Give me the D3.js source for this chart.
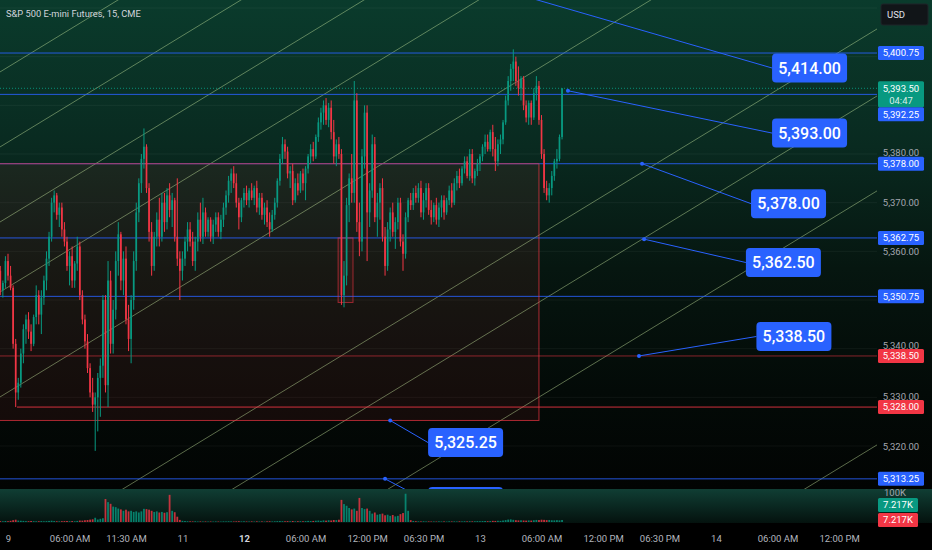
<!DOCTYPE html>
<html>
<head>
<meta charset="utf-8">
<script src="https://cdn.jsdelivr.net/npm/d3@7/dist/d3.min.js"></script>
<style>
  html, body { margin: 0; padding: 0; background: #000; }
  svg { display: block; font-family: Roboto, "Noto Sans", sans-serif; }
</style>
</head>
<body>
<svg id="chart"></svg>
<script>
// ---- data (ES 15 min) ----
var firstBar = -3;   // bar index of the first candle, bar 0 = day "9" 00:00

// [open, high, low, close]
var candles = [
  [5356,5357,5351,5352],[5352,5354,5350.5,5353.5],[5353.5,5359,5352.5,5358],[5358,5359.5,5354,5355],[5355,5357,5352,5352.5],
  [5352.5,5353,5340,5341],[5341,5342,5328,5331],[5331,5334,5329.5,5333],[5333,5340,5332,5339],[5339,5345,5337,5344],
  [5344,5347,5341,5346],[5346,5347.5,5342,5343.5],[5343.5,5345,5339.5,5341],[5341,5347,5340.5,5346.5],[5346.5,5353,5345,5351],
  [5351,5352,5345,5347],[5347,5352,5343,5350.5],[5350.5,5355,5349,5354],[5354,5360,5352,5358.5],[5358.5,5364,5357,5363],
  [5363,5371,5362,5370],[5370,5372.5,5368,5371.5],[5371.5,5372,5366.5,5367.5],[5367.5,5370,5365,5369],[5369,5370,5363,5364.5],
  [5364.5,5366,5361,5362],[5362,5363,5356,5357],[5357,5360,5353,5359],[5359,5361,5352.5,5354],[5354,5358,5352.5,5357.5],
  [5357.5,5363,5356,5361],[5361,5362,5350,5351],[5351,5352,5345,5346],[5346,5347,5340,5341.5],[5341.5,5343,5335,5336],
  [5336,5337,5330,5331],[5331,5334,5327,5328.5],[5328.5,5331,5319,5330],[5330,5335,5323,5334],[5334,5338,5326,5336.5],
  [5336.5,5351,5334,5350],[5350,5351,5331,5332.5],[5332.5,5358,5328,5354],[5354,5356,5339,5341],[5341,5350,5339,5348],
  [5348,5360,5346,5358],[5358,5366,5355,5363.5],[5363.5,5364,5352,5354],[5354,5360,5351,5358.5],[5358.5,5361,5345,5346],
  [5346,5349,5339.5,5342],[5342,5351,5337,5350],[5350,5360,5348,5358],[5358,5370,5356,5368],[5368,5375,5366,5374],
  [5374,5380,5372,5379],[5379,5385.25,5377,5381.5],[5381.5,5382,5372,5373],[5373,5374,5362,5364],[5364,5366,5355,5357],
  [5357,5364,5356,5363],[5363,5368,5361,5366.5],[5366.5,5371,5361,5363],[5363,5372,5362,5370],[5370,5372,5364,5366],
  [5366,5373,5364.5,5371.5],[5371.5,5374,5367,5368.5],[5368.5,5372,5365,5370.5],[5370.5,5371,5362,5363],[5363,5375,5357,5358.5],
  [5358.5,5360,5350,5356],[5356,5360,5354,5358.5],[5358.5,5363,5357,5362],[5362,5366,5360,5364.5],[5364.5,5366,5361,5362],
  [5362,5364,5357,5358],[5358,5363,5356,5362],[5362,5368,5360,5366.5],[5366.5,5370,5362,5363],[5363,5371,5361.5,5368],
  [5368,5369,5363,5364],[5364,5367,5363,5366.5],[5366.5,5367,5362,5363],[5363,5366.5,5361.5,5365.5],[5365.5,5368,5364,5367],
  [5367,5368,5363,5364],[5364,5367.5,5362.5,5366.5],[5366.5,5370,5365,5369],[5369,5372.5,5367.5,5371.5],[5371.5,5375.5,5370,5374.5],
  [5374.5,5377,5372,5376],[5376,5377.5,5373,5374],[5374,5376,5369,5370],[5370,5371,5364.5,5367],[5367,5371,5366,5370.5],
  [5370.5,5373,5369,5372],[5372,5373.5,5369.5,5370.5],[5370.5,5373,5369,5372.5],[5372.5,5374,5370.5,5371],[5371,5373.5,5369.5,5373],
  [5373,5374.5,5368,5369],[5369,5372,5367.5,5371],[5371,5372,5366.5,5367.5],[5367.5,5370,5365.5,5369],[5369,5370.5,5365,5366],
  [5366,5368,5363,5364.5],[5364.5,5368.5,5364,5367.5],[5367.5,5371,5366.5,5370],[5370,5375,5369,5374.5],[5374.5,5380,5373.5,5379],
  [5379,5383.5,5378,5382],[5382,5383,5379,5380.5],[5380.5,5381.5,5375,5376],[5376,5377.5,5373,5376.5],[5376.5,5378,5369.5,5370.5],
  [5370.5,5375,5370,5374],[5374,5376,5371.5,5372.5],[5372.5,5376.5,5372,5376],[5376,5377,5372.5,5374],[5374,5377.5,5370.5,5377],
  [5377,5380,5376,5379.5],[5379.5,5382,5378,5381],[5381,5382.5,5378.5,5379.5],[5379.5,5384,5379,5383.5],[5383.5,5387.5,5382.5,5386.5],
  [5386.5,5389.5,5385,5388.5],[5388.5,5391,5386,5390],[5390,5391.5,5386,5387],[5387,5390.5,5385.5,5389.5],[5389.5,5391,5383,5384.5],
  [5384.5,5387,5378,5379.5],[5379.5,5383,5377.5,5382],[5382,5383.5,5379,5380],[5380,5381,5349,5351],[5351,5358,5348.5,5355],
  [5355,5371,5353,5369.5],[5369.5,5376,5366,5375],[5375,5380,5370,5372],[5372,5395,5370,5391],[5391,5392.5,5364,5366],
  [5366,5370,5359,5362],[5362,5381,5360,5379.5],[5379.5,5390,5377,5388.5],[5388.5,5390,5358,5368],[5368,5374,5365,5372.5],
  [5372.5,5384,5371,5382],[5382,5383.5,5366,5367],[5367,5372,5363,5370],[5370,5374,5366.5,5373],[5373,5375,5362,5363],
  [5363,5365,5355,5357],[5357,5366,5356,5364.5],[5364.5,5369,5362,5368],[5368,5370,5363,5364],[5364,5367,5360.5,5366],
  [5366,5371,5364.5,5370],[5370,5371,5361,5362],[5362,5363.5,5356,5359.5],[5359.5,5368,5358.5,5367],[5367,5371,5366,5370.5],
  [5370.5,5372,5368.5,5369.5],[5369.5,5373,5368.5,5372],[5372,5373.5,5370,5371],[5371,5374,5370,5373],[5373,5374.5,5367,5368],
  [5368,5372,5366.5,5370.5],[5370.5,5374,5369,5373],[5373,5374,5367.5,5368.5],[5368.5,5370.5,5365.5,5367],[5367,5370,5366,5369.5],
  [5369.5,5371,5365.5,5366.5],[5366.5,5370,5365,5369],[5369,5371.5,5367,5370.5],[5370.5,5371.5,5366.5,5368],[5368,5371,5367.5,5370.5],
  [5370.5,5373.5,5369.5,5372.5],[5372.5,5374,5369,5370],[5370,5375,5369.5,5374],[5374,5376.5,5372.5,5375.5],[5375.5,5377,5373,5374],
  [5374,5377.5,5373.5,5377],[5377,5379.5,5376,5378.5],[5378.5,5379.5,5375,5375.5],[5375.5,5381,5374.5,5380],[5380,5381,5374,5375],
  [5375,5377,5373.5,5376.5],[5376.5,5379,5375.5,5378],[5378,5380,5376.5,5379.5],[5379.5,5382,5378.5,5381.5],[5381.5,5384,5380,5382.5],
  [5382.5,5384,5380.5,5381],[5381,5385,5380.5,5384.5],[5384.5,5386,5379.5,5381],[5381,5383.5,5376.5,5378.5],[5378.5,5383,5377.5,5382],
  [5382,5384,5380,5383],[5383,5387,5382,5386.5],[5386.5,5392,5386,5391],[5391,5396,5390,5395],[5395,5398.5,5393,5397.5],
  [5397.5,5401.5,5395,5399],[5399,5400,5394,5395],[5395,5398,5392,5393.5],[5393.5,5396,5391,5395.5],[5395.5,5396,5389,5390],
  [5390,5391,5386.5,5387.5],[5387.5,5391,5386,5390.5],[5390.5,5391,5386,5387.5],[5387.5,5393.5,5387,5392.5],[5392.5,5396,5391,5394],
  [5394,5395,5386,5387],[5387,5388,5379,5380],[5380,5381,5372,5373],[5373,5374.5,5370.5,5371.5],[5371.5,5374,5370,5373],
  [5373,5376.5,5371.5,5375.5],[5375.5,5379,5374.5,5378.5],[5378.5,5381,5377,5379],[5379,5384,5378.5,5383.5],[5383.5,5393.5,5383,5393.5]
];

// volume per bar, thousands of contracts
var volumes = [
  3.1,2.4,3.6,2.8,4.2,
  6.5,8.2,5.1,4.4,3.9,3.2,2.9,3.5,
  3.0,2.6,2.8,3.3,2.5,3.1,3.8,4.6,3.4,2.7,
  2.5,2.9,3.2,3.6,2.8,3.3,2.6,3.9,5.2,4.8,
  6.3,7.1,8.4,9.6,15.2,8.8,11.5,13.4,
  82,71,65,55,53,48,45,40,44,38,
  40,36,38,34,38,47,46,44,40,36,
  38,34,36,33,35,97,40,35,19,7.5,
  4.2,3.5,2.8,2.4,2.1,2.6,1.9,2.2,1.8,2.0,
  1.7,1.9,1.6,2.1,1.8,1.5,2.3,2.0,2.6,2.2,1.9,2.4,2.8,2.1,
  2.5,2.0,1.8,2.2,1.7,2.4,1.9,2.1,1.6,2.3,2.7,2.0,2.5,3.1,
  3.4,2.9,2.6,3.2,2.8,3.6,2.5,2.9,3.1,2.7,3.3,4.0,3.5,3.8,
  4.6,5.2,4.1,5.8,4.9,6.3,5.5,7.2,6.8,8.1,
  79,64,58,50,45,48,40,86,50,46,
  48,40,30,34,26,28,30,24,26,22,
  25,20,22,28,32,101,40,6.5,3.8,2.9,
  2.4,2.1,2.6,1.9,2.2,1.8,2.0,1.7,2.3,1.9,2.1,1.6,2.4,2.0,
  2.2,1.8,2.5,2.1,2.7,2.3,2.9,2.4,2.6,3.1,2.8,3.3,3.6,3.0,
  3.5,4.1,3.8,4.4,3.9,5.2,6.8,8.6,9.4,7.8,6.5,5.7,6.1,5.4,
  4.9,5.6,5.1,6.3,7.4,6.9,8.2,7.6,6.8,7.3,6.2,5.9,6.6,5.8,7.217
];

var tickBars   = [0, 24, 46, 68, 92, 116, 140, 162, 184, 208, 232, 254, 276, 300, 324];
var tickLabels = ["9", "06:00 AM", "11:30 AM", "11", "12", "06:00 AM", "12:00 PM", "06:30 PM",
                  "13", "06:00 AM", "12:00 PM", "06:30 PM", "14", "06:00 AM", "12:00 PM"];
var weekStartLabel = "12";

var priceTicks = [5320, 5330, 5340, 5350, 5360, 5370, 5380, 5390, 5400, 5410];

// horizontal levels
var levelPrices = [5400.75, 5392.25, 5378, 5362.75, 5350.75, 5338.5, 5328, 5313.25];
var levelKinds  = ["blue", "blue", "blue", "blue", "blue", "red", "red", "blue"];
var levelFrom   = [-10, -10, -10, -10, -10, -10, 3.5, -10];

// parallel channel: price of each line at bar 0, slope in points per bar
var channelAtBar0 = [5397.86, 5382.45, 5367.03, 5352.65, 5331.08, 5296.77, 5283.0, 5263.5, 5211.3];
var channelSlope = 0.3215;

// range box and the small box at the Monday open
var zoneBars = [-10, 207], zonePrices = [5378, 5325.25];
var boxBars = [128.7, 134.5], boxPrices = [5362.75, 5349.5];

// callouts: anchor point and label centre, both as (bar, price)
var calloutPrices = [5414, 5393, 5378, 5362.5, 5338.5, 5325.25, 5313.25];
var calloutBars   = [191, 218.3, 247.2, 248, 246, 149, 147];
var labelBars     = [312.5, 312.5, 304.3, 302.3, 306.4, 178.4, 178.4];
var labelPrices   = [5397.67, 5384.3, 5369.8, 5357.7, 5342.5, 5320.7, 5308.6];

var lastPrice = 5393.5;
var countdown = "04:47";

// ---- layout ----
var W = 932, H = 550;
var plotRight = 877, paneBottom = 489, volBottom = 523;
var green = "#089981", red = "#f23645", blue = "#2962ff";

var fmt = d3.format(",.2f");

var x = d3.scaleLinear().domain([0, 324]).range([8, 839.06]);
var y = d3.scaleLinear().domain([5320, 5380]).range([446, 154]);
var yVol = d3.scaleLinear().domain([0, 100]).range([522, 494]);

var svg = d3.select("#chart").attr("width", W).attr("height", H);
var defs = svg.append("defs");

var bg = defs.append("linearGradient").attr("id", "bg")
  .attr("x1", 0).attr("y1", 0).attr("x2", 0).attr("y2", 1);
bg.append("stop").attr("offset", "0%").attr("stop-color", "#0a3b2c");
bg.append("stop").attr("offset", "30%").attr("stop-color", "#092a20");
bg.append("stop").attr("offset", "55%").attr("stop-color", "#061610");
bg.append("stop").attr("offset", "80%").attr("stop-color", "#030a07");
bg.append("stop").attr("offset", "100%").attr("stop-color", "#020403");

var vbg = defs.append("linearGradient").attr("id", "vbg")
  .attr("x1", 0).attr("y1", 0).attr("x2", 0).attr("y2", 1);
vbg.append("stop").attr("offset", "0%").attr("stop-color", "#103e34");
vbg.append("stop").attr("offset", "100%").attr("stop-color", "#04120e");

defs.append("clipPath").attr("id", "paneClip")
  .append("rect").attr("x", 0).attr("y", 0).attr("width", plotRight).attr("height", paneBottom);
defs.append("clipPath").attr("id", "volClip")
  .append("rect").attr("x", 0).attr("y", paneBottom).attr("width", plotRight).attr("height", volBottom - paneBottom);

svg.append("rect").attr("width", W).attr("height", H).attr("fill", "#000");
svg.append("rect").attr("width", W).attr("height", paneBottom).attr("fill", "url(#bg)");

var bars = candles.map(function(c, k) {
  return { i: firstBar + k, o: c[0], h: c[1], l: c[2], c: c[3], v: volumes[k] };
});
function up(d) { return d.c >= d.o; }

// ---- price pane ----
var pane = svg.append("g").attr("clip-path", "url(#paneClip)");

pane.append("g").selectAll("line").data(priceTicks).join("line")
  .attr("x1", 0).attr("x2", plotRight)
  .attr("y1", function(d) { return y(d); }).attr("y2", function(d) { return y(d); })
  .attr("stroke", "#ffffff").attr("stroke-opacity", 0.05);

pane.append("rect")
  .attr("x", x(zoneBars[0])).attr("width", x(zoneBars[1]) - x(zoneBars[0]))
  .attr("y", y(zonePrices[0])).attr("height", y(zonePrices[1]) - y(zonePrices[0]))
  .attr("fill", red).attr("fill-opacity", 0.08);

pane.append("g").selectAll("line").data(channelAtBar0).join("line")
  .attr("x1", x(-5)).attr("x2", x(340))
  .attr("y1", function(p) { return y(p - 5 * channelSlope); })
  .attr("y2", function(p) { return y(p + 340 * channelSlope); })
  .attr("stroke", "#c8e6a0").attr("stroke-opacity", 0.5).attr("stroke-width", 0.9);

pane.append("g").selectAll("line").data(levelPrices).join("line")
  .attr("x1", function(d, k) { return x(levelFrom[k]); }).attr("x2", plotRight)
  .attr("y1", function(d) { return y(d); }).attr("y2", function(d) { return y(d); })
  .attr("stroke", function(d, k) { return levelKinds[k] == "red" ? red : blue; })
  .attr("stroke-opacity", function(d, k) { return levelPrices[k] == 5338.5 ? 0.55 : 0.85; });

pane.append("line")
  .attr("x1", 0).attr("x2", plotRight).attr("y1", y(lastPrice)).attr("y2", y(lastPrice))
  .attr("stroke", green).attr("stroke-dasharray", "1,2").attr("stroke-opacity", 0.9);

pane.append("rect")
  .attr("x", x(zoneBars[0])).attr("width", x(zoneBars[1]) - x(zoneBars[0]))
  .attr("y", y(zonePrices[0])).attr("height", y(zonePrices[1]) - y(zonePrices[0]))
  .attr("fill", "none").attr("stroke", red).attr("stroke-opacity", 0.7);

pane.append("rect")
  .attr("x", x(boxBars[0])).attr("width", x(boxBars[1]) - x(boxBars[0]))
  .attr("y", y(boxPrices[0])).attr("height", y(boxPrices[1]) - y(boxPrices[0]))
  .attr("fill", red).attr("fill-opacity", 0.08)
  .attr("stroke", red).attr("stroke-opacity", 0.6);

var gc = pane.append("g");
gc.selectAll("line").data(bars).join("line")
  .attr("x1", function(d) { return x(d.i); }).attr("x2", function(d) { return x(d.i); })
  .attr("y1", function(d) { return y(d.h); }).attr("y2", function(d) { return y(d.l); })
  .attr("stroke", function(d) { return up(d) ? green : red; })
  .attr("stroke-width", 1);
gc.selectAll("rect").data(bars).join("rect")
  .attr("x", function(d) { return x(d.i) - 0.85; }).attr("width", 1.7)
  .attr("y", function(d) { return y(Math.max(d.o, d.c)); })
  .attr("height", function(d) { return Math.max(0.8, Math.abs(y(d.o) - y(d.c))); })
  .attr("fill", function(d) { return up(d) ? green : red; });

// callouts
var boxW = 75, boxH = 29;
var callouts = calloutPrices.map(function(p, k) {
  return { ax: x(calloutBars[k]), ay: y(p), cx: x(labelBars[k]), cy: y(labelPrices[k]), text: fmt(p) };
});
var gco = pane.append("g");
gco.selectAll("line").data(callouts).join("line")
  .attr("x1", function(d) { return d.ax; }).attr("y1", function(d) { return d.ay; })
  .attr("x2", function(d) { return d.cx - boxW / 2; }).attr("y2", function(d) { return d.cy; })
  .attr("stroke", blue).attr("stroke-width", 1);
gco.selectAll("circle").data(callouts).join("circle")
  .attr("cx", function(d) { return d.ax; }).attr("cy", function(d) { return d.ay; })
  .attr("r", 2).attr("fill", blue);
gco.selectAll("rect").data(callouts).join("rect")
  .attr("x", function(d) { return d.cx - boxW / 2; }).attr("y", function(d) { return d.cy - boxH / 2; })
  .attr("width", boxW).attr("height", boxH).attr("rx", 4).attr("fill", blue);
gco.selectAll("text").data(callouts).join("text")
  .attr("x", function(d) { return d.cx; }).attr("y", function(d) { return d.cy; })
  .attr("dy", "0.36em").attr("text-anchor", "middle")
  .attr("fill", "#fff").attr("font-size", 16).attr("font-weight", 500)
  .text(function(d) { return d.text; });

// ---- volume pane ----
svg.append("rect").attr("x", 0).attr("y", paneBottom).attr("width", W).attr("height", volBottom - paneBottom)
  .attr("fill", "url(#vbg)");
svg.append("g").attr("clip-path", "url(#volClip)")
  .selectAll("rect").data(bars).join("rect")
  .attr("x", function(d) { return x(d.i) - 0.9; }).attr("width", 1.8)
  .attr("y", function(d) { return yVol(d.v); })
  .attr("height", function(d) { return yVol(0) - yVol(d.v); })
  .attr("fill", function(d) { return up(d) ? green : red; })
  .attr("fill-opacity", 0.8);

// ---- time axis ----
var xAxis = d3.axisBottom(x).tickValues(tickBars)
  .tickFormat(function(d, k) { return tickLabels[k]; })
  .tickSize(0).tickPadding(0);
var gx = svg.append("g").attr("transform", "translate(0,535)").call(xAxis);
gx.select(".domain").remove();
gx.selectAll("text")
  .attr("font-family", "Roboto, sans-serif").attr("font-size", 9.5)
  .attr("fill", function(d, k) { return tickLabels[k] == weekStartLabel ? "#d1d4dc" : "#b2b5be"; })
  .attr("font-weight", function(d, k) { return tickLabels[k] == weekStartLabel ? 700 : 400; });

// ---- price axis: level tags first, so grid labels hidden under them can be dropped ----
var axisLabels = levelPrices.map(function(p, k) {
  return { price: p, fill: levelKinds[k] == "red" ? red : blue, text: fmt(p), h: 14 };
});
axisLabels.push({ price: lastPrice, fill: green, text: fmt(lastPrice), sub: countdown, h: 26 });
axisLabels.sort(function(a, b) { return b.price - a.price; });
var prevBottom = -1e9;
axisLabels.forEach(function(d) {
  var top = y(d.price) - 7;
  if (top < prevBottom) top = prevBottom;
  d.top = top;
  prevBottom = top + d.h;
});

var currencyBox = { top: 4, h: 21 };
var covers = axisLabels.concat([currencyBox]);
var shownTicks = priceTicks.filter(function(p) {
  var yy = y(p);
  return !covers.some(function(b) { return yy >= b.top && yy <= b.top + b.h; });
});
// a grid label sitting just above a tag is nudged up so the two texts do not collide
function tickShift(p) {
  var yy = y(p), shift = 0;
  axisLabels.forEach(function(b) {
    if (b.top > yy && b.top - yy < 4) shift = Math.min(shift, b.top - yy - 4);
  });
  return shift;
}

var yAxis = d3.axisRight(y).tickValues(shownTicks).tickFormat(fmt).tickSize(0).tickPadding(0);
var gy = svg.append("g").attr("transform", "translate(901,0)").call(yAxis);
gy.select(".domain").remove();
gy.selectAll("text").attr("text-anchor", "middle")
  .attr("y", function(d) { return tickShift(d); })
  .attr("font-family", "Roboto, sans-serif").attr("font-size", 9.5).attr("fill", "#a3a6af");

var gl = svg.append("g");
gl.selectAll("rect").data(axisLabels).join("rect")
  .attr("x", 878).attr("y", function(d) { return d.top; })
  .attr("width", 46).attr("height", function(d) { return d.h; })
  .attr("rx", 1.5).attr("fill", function(d) { return d.fill; });
gl.selectAll("text.main").data(axisLabels).join("text").attr("class", "main")
  .attr("x", 901).attr("y", function(d) { return d.top + 7; }).attr("dy", "0.35em")
  .attr("text-anchor", "middle").attr("font-size", 9.5).attr("fill", "#fff")
  .text(function(d) { return d.text; });
gl.selectAll("text.sub").data(axisLabels.filter(function(d) { return d.sub; })).join("text").attr("class", "sub")
  .attr("x", 901).attr("y", function(d) { return d.top + 19; }).attr("dy", "0.35em")
  .attr("text-anchor", "middle").attr("font-size", 9.5).attr("fill", "#fff").attr("fill-opacity", 0.85)
  .text(function(d) { return d.sub; });

// volume scale label and last-volume tags
var lastVol = volumes[volumes.length - 1];
svg.append("text").attr("x", 884).attr("y", yVol(100) - 0.5).attr("dy", "0.3em")
  .attr("font-size", 9.5).attr("fill", "#a3a6af").text("100K");
var redTop = yVol(lastVol) - 7;
var volTags = [{ top: redTop - 15, fill: green }, { top: redTop, fill: red }];
svg.append("g").selectAll("rect").data(volTags).join("rect")
  .attr("x", 878).attr("y", function(d) { return d.top; }).attr("width", 40).attr("height", 14)
  .attr("rx", 1.5).attr("fill", function(d) { return d.fill; });
svg.append("g").selectAll("text").data(volTags).join("text")
  .attr("x", 898).attr("y", function(d) { return d.top + 7; }).attr("dy", "0.35em")
  .attr("text-anchor", "middle").attr("font-size", 9.5).attr("fill", "#fff")
  .text(d3.format(".3f")(lastVol) + "K");

// currency button and title
svg.append("rect").attr("x", 881).attr("y", currencyBox.top).attr("width", 47).attr("height", currencyBox.h).attr("rx", 2)
  .attr("fill", "#111518").attr("stroke", "#1f2428");
svg.append("text").attr("x", 887).attr("y", 14.5).attr("dy", "0.35em")
  .attr("font-size", 9.5).attr("fill", "#e0e3eb").text("USD");

svg.append("text").attr("x", 6).attr("y", 17)
  .attr("font-size", 9.3).attr("fill", "#d1d4dc")
  .text("S&P 500 E-mini Futures, 15, CME");
</script>
</body>
</html>
